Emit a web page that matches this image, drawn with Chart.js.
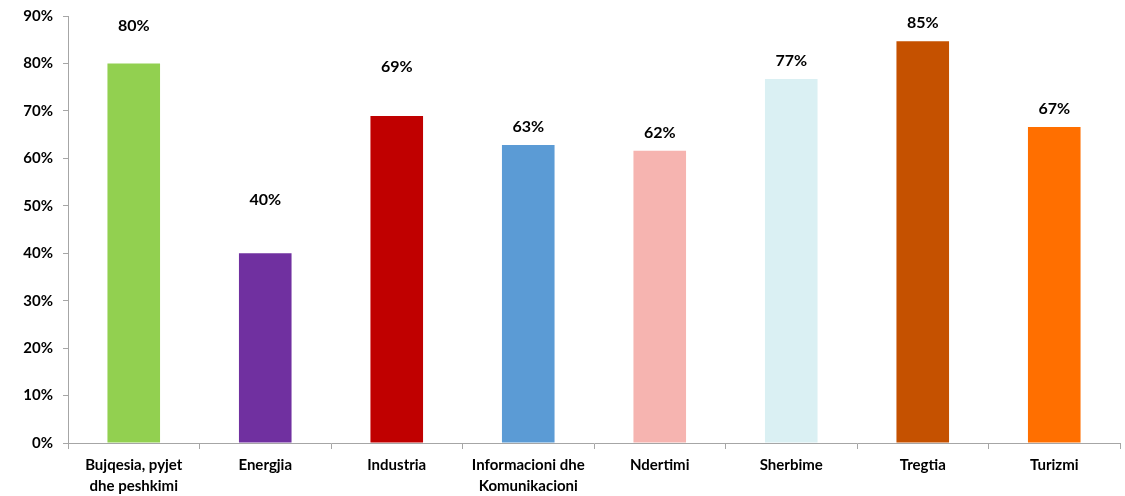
<!DOCTYPE html>
<html>
<head>
<meta charset="utf-8">
<script src="https://cdn.jsdelivr.net/npm/chart.js@4/dist/chart.umd.min.js"></script>
<style>
  html, body { margin: 0; padding: 0; background: #fff; }
  #wrap { width: 1125px; height: 496px; }
</style>
</head>
<body>
<div id="wrap"><canvas id="sectorChart" width="1125" height="496"></canvas></div>
<script>
// data
const categories = [
    ['Bujqesia, pyjet', 'dhe peshkimi'],
    'Energjia',
    'Industria',
    ['Informacioni dhe', 'Komunikacioni'],
    'Ndertimi',
    'Sherbime',
    'Tregtia',
    'Turizmi'
];
const values = [80, 40, 68.9, 62.8, 61.6, 76.7, 84.7, 66.6];
const valueLabels = ['80%', '40%', '69%', '63%', '62%', '77%', '85%', '67%'];
const yTicks = [0, 10, 20, 30, 40, 50, 60, 70, 80, 90];

const barColors = ['#92D050', '#7030A0', '#C00000', '#5B9BD5', '#F6B4B0', '#DAF0F3', '#C55100', '#FF6F00'];
const labelFont = 'bold 16px Lato, "Open Sans", sans-serif';

// draw the value labels above each bar (some were moved up by hand in the original)
const valueLabelPlugin = {
    id: 'valueLabels',
    afterDatasetsDraw(chart, args, opts) {
        const ctx = chart.ctx;
        const meta = chart.getDatasetMeta(0);
        ctx.save();
        ctx.font = labelFont;
        ctx.fillStyle = '#000';
        ctx.textAlign = 'center';
        ctx.textBaseline = 'middle';
        meta.data.forEach((bar, i) => {
            ctx.fillText(valueLabels[i], bar.x, bar.y - opts.lift[i]);
        });
        ctx.restore();
    }
};

const ctx = document.getElementById('sectorChart').getContext('2d');
new Chart(ctx, {
    type: 'bar',
    data: {
        labels: categories,
        datasets: [{
            data: values,
            backgroundColor: barColors,
            borderWidth: 0,
            barPercentage: 0.4,
            categoryPercentage: 1.0
        }]
    },
    options: {
        responsive: false,
        animation: false,
        layout: { padding: { top: 16, right: 5, left: 0, bottom: 0 } },
        plugins: {
            legend: { display: false },
            tooltip: { enabled: false },
            valueLabels: { lift: [38, 53, 49, 18, 18, 18, 18, 18] }
        },
        scales: {
            x: {
                grid: {
                    offset: true,
                    drawOnChartArea: false,
                    drawTicks: true,
                    tickLength: 6,
                    color: '#A6A6A6'
                },
                border: { color: '#A6A6A6', width: 1 },
                ticks: {
                    color: '#000',
                    font: { family: 'Lato, "Open Sans", sans-serif', size: 15, weight: 'bold', lineHeight: 1.4 },
                    maxRotation: 0,
                    autoSkip: false,
                    padding: 6
                },
                afterFit(scale) { scale.height = 53; }
            },
            y: {
                min: 0,
                max: 90,
                afterBuildTicks(scale) {
                    scale.ticks = yTicks.map(v => ({ value: v }));
                },
                grid: {
                    drawOnChartArea: false,
                    drawTicks: true,
                    tickLength: 5,
                    color: '#A6A6A6'
                },
                border: { color: '#A6A6A6', width: 1 },
                ticks: {
                    color: '#000',
                    font: { family: 'Lato, "Open Sans", sans-serif', size: 15, weight: 'bold' },
                    padding: 10,
                    callback: v => v + '%'
                },
                afterFit(scale) {
                    scale.width = 68;
                    // don't let the top tick label push the plot area down
                    scale.paddingTop = 0;
                    scale.paddingBottom = 0;
                }
            }
        }
    },
    plugins: [valueLabelPlugin]
});
</script>
</body>
</html>
